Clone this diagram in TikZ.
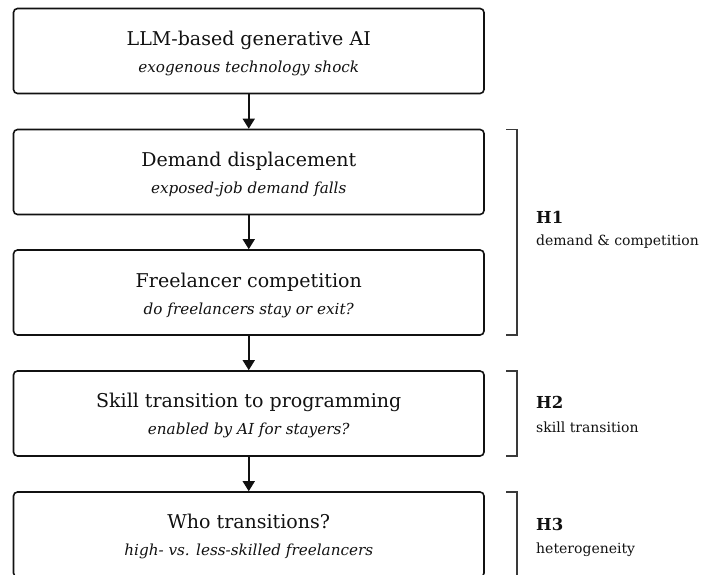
\documentclass[tikz,border=0pt]{standalone}
\usepackage{fontspec}
\setmainfont{DejaVu Serif}
\usetikzlibrary{arrows.meta}
\definecolor{ink}{HTML}{111111}
\definecolor{brk}{HTML}{3A3A3A}
\tikzset{
  stagebox/.style={draw=ink, line width=1.6pt, rounded corners=4pt, minimum width=470.5pt, minimum height=85pt, inner sep=0pt},
  ttl/.style={anchor=base, font=\fontsize{19}{22}\selectfont, text=ink, inner sep=0pt},
  sub/.style={anchor=base, font=\fontsize{15.2}{18}\selectfont\itshape, text=ink, inner sep=0pt},
  hyp/.style={anchor=base west, font=\fontsize{16.5}{19}\selectfont\bfseries, text=ink, inner sep=0pt},
  hypd/.style={anchor=base west, font=\fontsize{14}{17}\selectfont, text=ink, inner sep=0pt},
  flow/.style={draw=ink, line width=1.5pt, -{Triangle[length=10pt,width=12pt]}},
  brack/.style={draw=brk, line width=1.3pt},
}
\begin{document}
\begin{tikzpicture}[x=1pt,y=-1pt]
\useasboundingbox (0,0) rectangle (701,575);
% boxes
\node[stagebox] (b1) at (248.75,51) {};
\node[stagebox] (b2) at (248.75,172) {};
\node[stagebox] (b3) at (248.75,292.5) {};
\node[stagebox] (b4) at (248.75,413.5) {};
\node[stagebox] (b5) at (248.75,534.5) {};
% texts
\node[ttl] (t1) at (248.75,45.5) {LLM-based generative AI};
\node[sub] (s1) at (248.75,72.5) {exogenous technology shock};
\node[ttl] (t2) at (248.75,166.5) {Demand displacement};
\node[sub] (s2) at (248.75,193.5) {exposed-job demand falls};
\node[ttl] (t3) at (248.75,287) {Freelancer competition};
\node[sub] (s3) at (248.75,314) {do freelancers stay or exit?};
\node[ttl] (t4) at (248.75,407.5) {Skill transition to programming};
\node[sub] (s4) at (248.75,434.5) {enabled by AI for stayers?};
\node[ttl] (t5) at (248.75,528.5) {Who transitions?};
\node[sub] (s5) at (248.75,555.5) {high- vs. less-skilled freelancers};
% arrows
\draw[flow] (b1.south) -- (b2.north);
\draw[flow] (b2.south) -- (b3.north);
\draw[flow] (b3.south) -- (b4.north);
\draw[flow] (b4.south) -- (b5.north);
% brackets
\coordinate (k1a) at (506,129.5);
\coordinate (k1b) at (506,335);
\draw[brack] (k1a) -| (517,335) -- (k1b);
\coordinate (k2a) at (506,371);
\coordinate (k2b) at (506,456);
\draw[brack] (k2a) -| (517,456) -- (k2b);
\coordinate (k3a) at (506,492);
\coordinate (k3b) at (517,580);
\draw[brack] (k3a) -| (k3b);
% hypothesis labels
\node[hyp] (h1) at (536,223.3) {H1};
\node[hypd] (h1d) at (536,245.7) {demand \& competition};
\node[hyp] (h2) at (536,408) {H2};
\node[hypd] (h2d) at (536,432.5) {skill transition};
\node[hyp] (h3) at (536,530) {H3};
\node[hypd] (h3d) at (536,553) {heterogeneity};
\end{tikzpicture}
\end{document}
